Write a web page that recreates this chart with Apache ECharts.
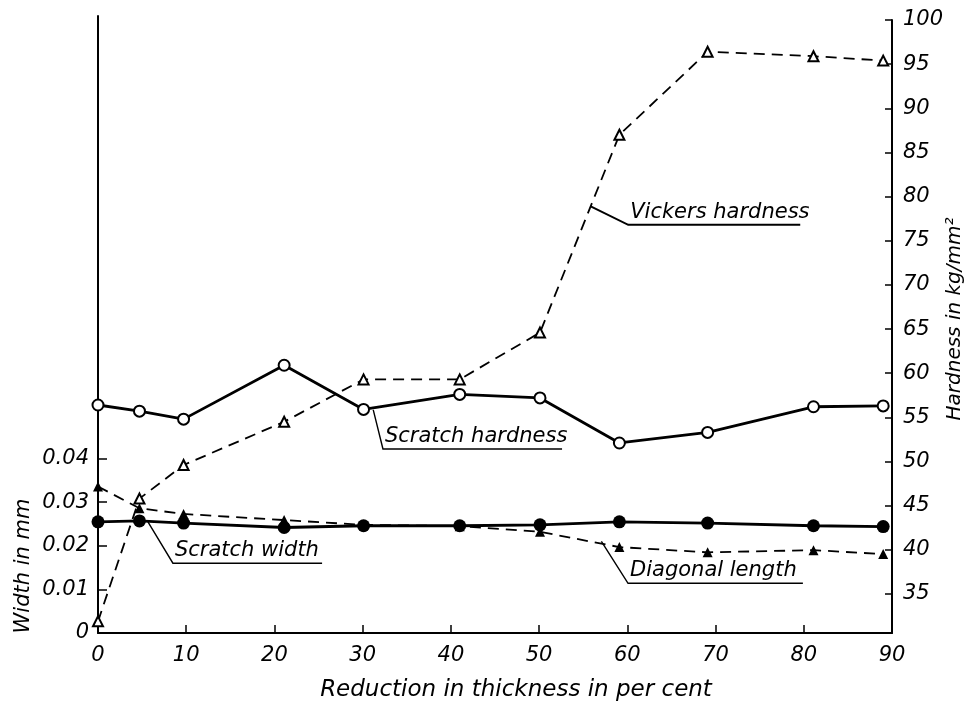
<!DOCTYPE html>
<html>
<head>
<meta charset="utf-8">
<script src="https://cdn.jsdelivr.net/npm/echarts@6/dist/echarts.min.js"></script>
<style>html,body{margin:0;padding:0;background:#fff;}#c{width:970px;height:704px;}</style>
</head>
<body>
<div id="c"></div>
<script>
// ---- data ----
const reduction = [0, 4.7, 9.7, 21.1, 30.1, 41.0, 50.1, 59.1, 69.1, 81.1, 89.0];
const vickersHardness = [31.9, 45.8, 49.6, 54.5, 59.3, 59.3, 64.6, 87.0, 96.4, 95.9, 95.4];
const scratchHardness = [56.4, 55.7, 54.8, 60.9, 55.9, 57.6, 57.2, 52.1, 53.3, 56.2, 56.3];
const scratchWidth = [0.0255, 0.0257, 0.0252, 0.0242, 0.0246, 0.0246, 0.0248, 0.0255, 0.0252, 0.0246, 0.0244];
const diagonalLength = [0.0336, 0.0286, 0.0273, 0.0259, 0.0248, 0.0245, 0.0232, 0.0197, 0.0185, 0.0190, 0.0181];
const xTicks = [0, 10, 20, 30, 40, 50, 60, 70, 80, 90];
const widthTicks = [0, 0.01, 0.02, 0.03, 0.04];
const hardnessTicks = [35, 40, 45, 50, 55, 60, 65, 70, 75, 80, 85, 90, 95, 100];
const labels = ['Vickers hardness', 'Scratch hardness', 'Scratch width', 'Diagonal length'];
const titles = ['Reduction in thickness in per cent', 'Width in mm', 'Hardness in kg/mm\u00b2'];

const FONT = '"DejaVu Sans", "Liberation Sans", sans-serif';
const pairs = ys => reduction.map((x, i) => [x, ys[i]]);
const chart = echarts.init(document.getElementById('c'), null, {renderer: 'canvas'});

const labelStyle = {color: '#000', fontFamily: FONT, fontStyle: 'italic', fontSize: 21};
const axisLine = {show: true, onZero: false, lineStyle: {color: '#000', width: 2}};

chart.setOption({
  animation: false,
  backgroundColor: '#fff',
  grid: [
    {left: 98, right: 78, top: 16, bottom: 71, containLabel: false},
    {left: 98, right: 78, top: 20, bottom: 71, containLabel: false}
  ],
  xAxis: [
    {type: 'value', gridIndex: 0, min: 0, max: 90, axisLine: axisLine,
     axisTick: {show: true, inside: true, length: 8, lineStyle: {color: '#000', width: 1.5}, customValues: xTicks},
     axisLabel: Object.assign({margin: 12, customValues: xTicks}, labelStyle),
     splitLine: {show: false}},
    {type: 'value', gridIndex: 1, min: 0, max: 90, show: false, splitLine: {show: false}}
  ],
  yAxis: [
    {type: 'value', gridIndex: 0, position: 'left', min: 0, max: 0.1415, axisLine: axisLine,
     axisTick: {show: true, inside: true, length: 9, lineStyle: {color: '#000', width: 1.5}, customValues: widthTicks},
     axisLabel: Object.assign({margin: 9, customValues: widthTicks,
       formatter: v => v === 0 ? '0' : v.toFixed(2)}, labelStyle),
     splitLine: {show: false}},
    {type: 'value', gridIndex: 1, position: 'right', min: 30.58, max: 100, axisLine: axisLine,
     axisTick: {show: true, inside: true, length: 7, lineStyle: {color: '#000', width: 1.5}, customValues: hardnessTicks},
     axisLabel: Object.assign({margin: 11, customValues: hardnessTicks}, labelStyle),
     splitLine: {show: false}}
  ],
  series: [
    {name: labels[1], type: 'line', xAxisIndex: 1, yAxisIndex: 1, data: pairs(scratchHardness),
     symbol: 'emptyCircle', symbolSize: 11, lineStyle: {color: '#000', width: 2.8},
     itemStyle: {color: '#000', borderWidth: 1.5, borderColor: '#000'}, z: 3},
    {name: labels[0], type: 'line', xAxisIndex: 1, yAxisIndex: 1, data: pairs(vickersHardness),
     symbol: 'emptyTriangle', symbolSize: 10, lineStyle: {color: '#000', width: 1.8, type: [11, 7]},
     itemStyle: {color: '#000', borderWidth: 1.2, borderColor: '#000'}, z: 3},
    {name: labels[2], type: 'line', xAxisIndex: 0, yAxisIndex: 0, data: pairs(scratchWidth),
     symbol: 'circle', symbolSize: 13, lineStyle: {color: '#000', width: 2.8},
     itemStyle: {color: '#000'}, z: 3},
    {name: labels[3], type: 'line', xAxisIndex: 0, yAxisIndex: 0, data: pairs(diagonalLength),
     symbol: 'triangle', symbolSize: 10, lineStyle: {color: '#000', width: 1.8, type: [11, 7]},
     itemStyle: {color: '#000'}, z: 3}
  ]
});

// callout leaders: anchor on curve, elbow, end of underline (data coordinates)
const callouts = [
  {text: labels[0], grid: 1, a: [55.85, 78.9], b: [60.1, 76.8], endX: 79.6, lw: 2},
  {text: labels[1], grid: 1, a: [31.2, 55.84], b: [32.3, 51.42], endX: 52.6, lw: 1.4},
  {text: labels[2], grid: 0, a: [5.66, 0.0255], b: [8.49, 0.0160], endX: 25.4, lw: 1.4},
  {text: labels[3], grid: 0, a: [57.06, 0.0210], b: [60.08, 0.0114], endX: 79.9, lw: 1.4}
];
const g = [];
callouts.forEach(c => {
  const f = {xAxisIndex: c.grid, yAxisIndex: c.grid};
  const p0 = chart.convertToPixel(f, c.a);
  const p1 = chart.convertToPixel(f, c.b);
  const p2 = chart.convertToPixel(f, [c.endX, c.b[1]]);
  g.push({type: 'polyline', shape: {points: [p0, p1, [p2[0], p1[1]]]},
          style: {stroke: '#000', lineWidth: c.lw, fill: null}, z: 10});
  g.push({type: 'text', x: p1[0] + 2, y: p1[1] - 2,
          style: {text: c.text, fill: '#000', fontFamily: FONT, fontStyle: 'italic', fontSize: 21,
                  align: 'left', verticalAlign: 'bottom'}, z: 10});
});
g.push({type: 'text', x: 516, y: 690, style: {text: titles[0], fill: '#000', fontFamily: FONT,
        fontStyle: 'italic', fontSize: 23, align: 'center', verticalAlign: 'middle'}});
g.push({type: 'text', x: 24, y: 566, rotation: Math.PI / 2, style: {text: titles[1], fill: '#000',
        fontFamily: FONT, fontStyle: 'italic', fontSize: 21, align: 'center', verticalAlign: 'middle'}});
g.push({type: 'text', x: 955, y: 319, rotation: Math.PI / 2, style: {text: titles[2], fill: '#000',
        fontFamily: FONT, fontStyle: 'italic', fontSize: 20, align: 'center', verticalAlign: 'middle'}});
chart.setOption({graphic: {elements: g}});
</script>
</body>
</html>
